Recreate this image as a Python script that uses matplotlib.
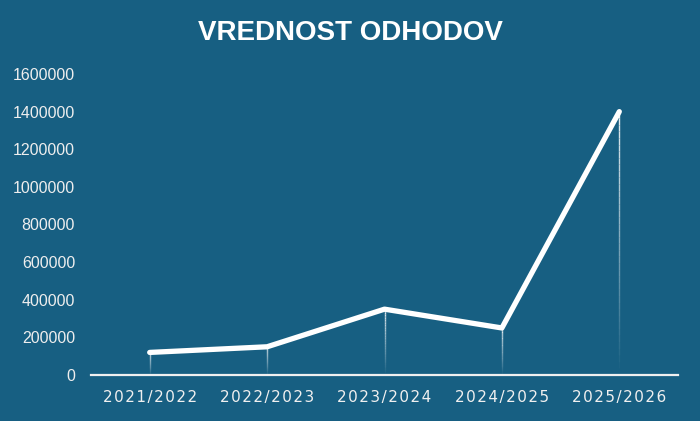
import matplotlib
matplotlib.use("Agg")
import matplotlib.pyplot as plt
import numpy as np
from matplotlib.collections import LineCollection

categories = ["2021/2022", "2022/2023", "2023/2024", "2024/2025", "2025/2026"]
values = [120000, 150000, 350000, 250000, 1400000]
yticks = [0, 200000, 400000, 600000, 800000, 1000000, 1200000, 1400000, 1600000]
title = "VREDNOST ODHODOV"

bg = "#175f82"
fig = plt.figure(figsize=(7, 4.21), dpi=100, facecolor=bg)
ax = fig.add_axes([91/700, 1-375/421, (678-91)/700, (375-74)/421])
ax.set_facecolor(bg)
x = np.arange(len(categories))
ax.set_xlim(-0.5, len(categories)-0.5)
ax.set_ylim(0, 1600000)

# drop lines fading towards the bottom
for xi, v in zip(x, values):
    n = 40
    ys = np.linspace(0, v, n+1)
    segs = [[(xi, ys[i]), (xi, ys[i+1])] for i in range(n)]
    alphas = np.linspace(0.0, 0.9, n)
    cols = [(1, 1, 1, a) for a in alphas]
    ax.add_collection(LineCollection(segs, colors=cols, linewidths=1.0))

ax.plot(x, values, color="white", lw=3.8, solid_capstyle="round",
        solid_joinstyle="round", clip_on=False, zorder=5)

for s in ["top", "right", "left"]:
    ax.spines[s].set_visible(False)
ax.spines["bottom"].set_color("#f0f0f0")
ax.spines["bottom"].set_linewidth(1.6)

ax.set_yticks(yticks)
ax.set_yticklabels([str(t) for t in yticks], color="#eeeeee",
                   fontsize=11.5, family="Liberation Sans")
ax.tick_params(axis="y", length=0, pad=11.5)
ax.set_xticks(x)
ax.set_xticklabels(["\u200a".join(c) for c in categories], color="#f0f0f0",
                   fontsize=11, family="DejaVu Sans")
ax.tick_params(axis="x", length=0, pad=11)

fig.text(0.5, 1-33/421, title,
         ha="center", va="center", color="white", fontsize=20,
         fontweight="bold", family="Liberation Sans")

fig.savefig("out.png", dpi=100, facecolor=bg)
